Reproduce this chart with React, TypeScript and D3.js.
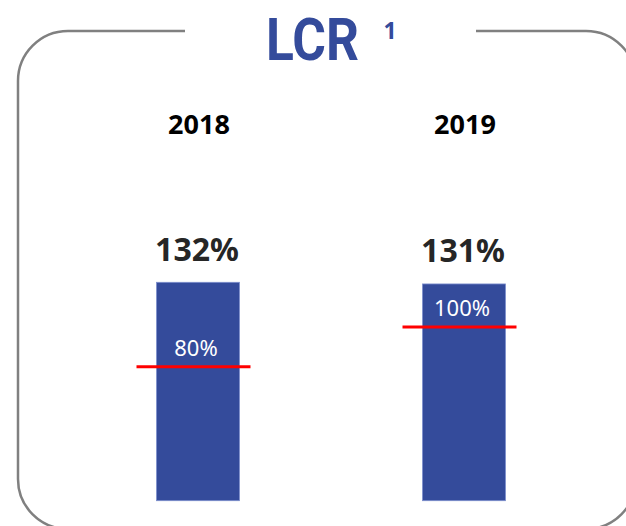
import React from "react";
import * as d3 from "d3";

// values
const years = ["2018", "2019"];
const lcrValues = [132, 131];
const lcrLabels = ["132%", "131%"];
// where the red regulatory-minimum line sits on each bar (read on the bar scale)
const limitLevels = [81, 105];
const limitLabels = ["80%", "100%"];

const title = "LCR";
const titleNote = "1";

const width = 626;
const height = 526;
const blue = "#344b9b";
const font = "'Noto Sans', 'Open Sans', sans-serif";

export default function App() {
  // bar positions
  const xScale = d3
    .scaleBand<string>()
    .domain(years)
    .range([156.5, 505.5])
    .paddingInner(0.688)
    .paddingOuter(0);

  const yScale = d3.scaleLinear().domain([0, 132]).range([500.7, 282.3]);

  const bw = xScale.bandwidth();

  // rounded frame with a gap at the top for the title
  const L = 18, R = 636, T = 31, B = 529, r = 50;
  const frame = d3.path();
  frame.moveTo(185, T);
  frame.lineTo(L + r, T);
  frame.arcTo(L, T, L, T + r, r);
  frame.lineTo(L, B - r);
  frame.arcTo(L, B, L + r, B, r);
  frame.lineTo(R - r, B);
  frame.arcTo(R, B, R, B - r, r);
  frame.lineTo(R, T + r);
  frame.arcTo(R, T, R - r, T, r);
  frame.lineTo(476, T);

  return (
    <svg
      width={width}
      height={height}
      style={{ position: "absolute", left: 0, top: 0, background: "#fff" }}
      fontFamily={font}
    >
      <path d={frame.toString()} fill="none" stroke="#808080" strokeWidth={2.5} />

      {/* title */}
      <text
        x={266}
        y={60}
        fontSize={60}
        fontWeight="bold"
        fontFamily="Roboto, 'Noto Sans', sans-serif"
        fill={blue}
        textLength={93}
        lengthAdjust="spacingAndGlyphs"
      >
        {title}
      </text>
      <text x={390} y={39.3} fontSize={23} fontWeight="bold" fill={blue} textAnchor="middle">
        {titleNote}
      </text>

      {years.map((year, i) => {
        const x0 = xScale(year) as number;
        const cx = x0 + bw / 2;
        const yTop = yScale(lcrValues[i]);
        const yLim = yScale(limitLevels[i]);
        return (
          <g key={year}>
            {/* year header */}
            <text x={cx + 1} y={134.3} fontSize={27} fontWeight="bold" fill="#000" textAnchor="middle">
              {year}
            </text>

            {/* bar */}
            <rect
              x={x0}
              y={yTop}
              width={bw}
              height={yScale(0) - yTop}
              fill={blue}
              stroke="#7d8fce"
              strokeWidth={0.8}
            />

            {/* value */}
            <text
              x={cx - 1}
              y={yTop - 21.5}
              fontSize={32}
              fontWeight="bold"
              fill="#262626"
              textAnchor="middle"
            >
              {lcrLabels[i]}
            </text>

            {/* minimum line + label */}
            <line
              x1={x0 - 20}
              x2={x0 + bw + 11}
              y1={yLim}
              y2={yLim}
              stroke="#ff0000"
              strokeWidth={3}
            />
            <text x={cx - 2} y={yLim - 11} fontSize={22} fill="#fff" textAnchor="middle">
              {limitLabels[i]}
            </text>
          </g>
        );
      })}
    </svg>
  );
}
